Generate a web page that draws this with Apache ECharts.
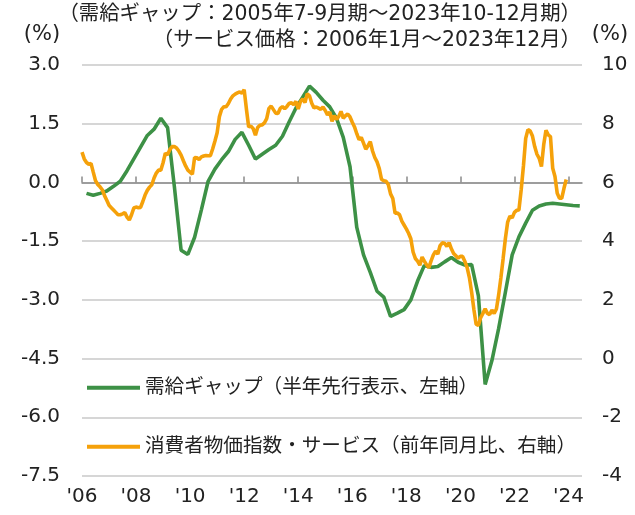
<!DOCTYPE html>
<html>
<head>
<meta charset="utf-8">
<script src="https://cdn.jsdelivr.net/npm/echarts@6/dist/echarts.min.js"></script>
<style>
html,body{margin:0;padding:0;background:#fff;}
#chart{width:635px;height:515px;}
</style>
</head>
<body>
<div id="chart"></div>
<script>
// 需給ギャップ (quarterly, 2005 Q3 - 2023 Q4), plotted half a year ahead
var demandGap = [
    -0.28, -0.33, -0.28, -0.22, -0.10, 0.03, 0.30, 0.60, 0.90, 1.20,
    1.36, 1.64, 1.40, -0.10, -1.73, -1.84, -1.40, -0.70, 0.03, 0.34,
    0.58, 0.79, 1.10, 1.28, 0.95, 0.60, 0.72, 0.84, 0.95, 1.18,
    1.55, 1.90, 2.18, 2.46, 2.30, 2.10, 1.93, 1.64, 1.15, 0.40,
    -1.15, -1.85, -2.30, -2.78, -2.93, -3.42, -3.34, -3.25, -3.00, -2.52,
    -2.12, -2.17, -2.15, -2.03, -1.92, -2.04, -2.11, -2.10, -2.90, -5.16,
    -4.55, -3.73, -2.80, -1.85, -1.39, -1.04, -0.71, -0.60, -0.55, -0.53,
    -0.55, -0.57, -0.59, -0.60
];

// サービス価格 (monthly, 2006/1 - 2023/12), one row per year
var serviceCpi = [
    7.03, 6.80, 6.68, 6.62, 6.65, 6.35, 6.06, 5.93, 5.85, 5.75, 5.55, 5.39,
    5.22, 5.14, 5.06, 4.98, 4.90, 4.90, 4.93, 4.97, 4.82, 4.72, 4.90, 5.13,
    5.16, 5.14, 5.15, 5.35, 5.57, 5.73, 5.84, 5.92, 6.15, 6.32, 6.42, 6.42,
    6.67, 7.00, 6.94, 7.12, 7.22, 7.22, 7.17, 7.07, 6.93, 6.74, 6.56, 6.42,
    6.35, 6.28, 6.85, 6.84, 6.78, 6.87, 6.90, 6.92, 6.91, 6.91, 7.14, 7.40,
    7.69, 8.24, 8.49, 8.58, 8.58, 8.69, 8.84, 8.95, 9.01, 9.05, 9.08, 9.04,
    9.16, 8.50, 7.89, 7.92, 7.83, 7.61, 7.87, 7.95, 7.96, 8.03, 8.17, 8.52,
    8.60, 8.48, 8.36, 8.35, 8.52, 8.58, 8.51, 8.59, 8.70, 8.71, 8.65, 8.76,
    8.50, 8.76, 8.84, 8.72, 9.02, 8.95, 8.70, 8.54, 8.57, 8.53, 8.49, 8.57,
    8.45, 8.30, 8.40, 8.08, 8.27, 8.15, 8.25, 8.42, 8.19, 8.27, 8.33, 8.23,
    8.05, 7.89, 7.66, 7.46, 7.53, 7.34, 7.13, 7.25, 7.39, 7.07, 6.85, 6.70,
    6.47, 6.10, 6.06, 6.04, 5.93, 5.61, 5.45, 4.95, 4.96, 4.90, 4.68, 4.55,
    4.42, 4.27, 4.08, 3.63, 3.41, 3.32, 3.18, 3.46, 3.32, 3.19, 3.10, 3.33,
    3.53, 3.66, 3.56, 3.85, 3.94, 3.93, 3.82, 3.95, 3.74, 3.58, 3.50, 3.42,
    3.48, 3.48, 3.31, 3.10, 2.76, 2.26, 1.67, 1.17, 1.13, 1.39, 1.54, 1.70,
    1.54, 1.50, 1.65, 1.54, 1.69, 2.17, 2.76, 3.42, 4.10, 4.65, 4.85, 4.79,
    4.98, 5.05, 5.06, 5.75, 6.56, 7.50, 7.80, 7.75, 7.58, 7.22, 6.96, 6.82,
    6.54, 7.28, 7.78, 7.62, 7.56, 6.48, 6.20, 5.63, 5.46, 5.46, 5.80, 6.10
];

var yearTicks = [2006, 2008, 2010, 2012, 2014, 2016, 2018, 2020, 2022, 2024];
var seriesNames = [
    '需給ギャップ（半年先行表示、左軸）',
    '消費者物価指数・サービス（前年同月比、右軸）'
];
var headerLines = [
    '（需給ギャップ：2005年7-9月期～2023年10-12月期）',
    '（サービス価格：2006年1月～2023年12月）'
];

(function(){
    var numFont = '"DejaVu Sans", "Noto Sans CJK JP"',
        textColor = '#222',
        axisGray = '#8a8a8a',
        gridGray = '#c8c8c8';

    // quarter k -> last month of the quarter, shifted +6 months
    var gapData = demandGap.map(function(v, k){
        return [2006 + (2 + 3 * k) / 12, v];
    });
    var cpiData = serviceCpi.map(function(v, m){
        return [2006 + m / 12, v];
    });

    var legendBase = {
        left: 87,
        padding: 0,
        icon: 'rect',
        itemWidth: 53,
        itemHeight: 4,
        textStyle: {fontSize: 19.6, color: textColor, fontFamily: numFont}
    };

    var option = {
        animation: false,
        backgroundColor: '#fff',
        grid: {left: 82, right: 53, top: 65, bottom: 39},
        legend: [
            Object.assign({data: [seriesNames[0]], top: 378}, legendBase),
            Object.assign({data: [seriesNames[1]], top: 437}, legendBase)
        ],
        xAxis: [
            {
                type: 'value', min: 2006, max: 2024.5,
                axisLine: {show: false},
                axisTick: {show: false},
                splitLine: {show: false},
                axisLabel: {
                    customValues: yearTicks,
                    formatter: function(v){ return "'" + String(v).slice(2); },
                    fontSize: 20, color: textColor, fontFamily: numFont, margin: 11
                }
            },
            {
                // axis line at zero with inward ticks
                type: 'value', min: 2006, max: 2024.5, position: 'bottom',
                axisLine: {onZero: true, onZeroAxisIndex: 0, lineStyle: {color: axisGray, width: 1.5}},
                axisTick: {show: true, inside: true, length: 6, customValues: yearTicks,
                           lineStyle: {color: axisGray, width: 1.5}},
                axisLabel: {show: false},
                splitLine: {show: false}
            }
        ],
        yAxis: [
            {
                type: 'value', min: -7.5, max: 3, interval: 1.5,
                axisLine: {show: false}, axisTick: {show: false},
                axisLabel: {
                    formatter: function(v){ return v.toFixed(1); },
                    fontSize: 20, color: textColor, fontFamily: numFont, margin: 22
                },
                splitLine: {lineStyle: {color: gridGray, width: 1.5}}
            },
            {
                type: 'value', min: -4, max: 10, interval: 2,
                axisLine: {show: false}, axisTick: {show: false},
                axisLabel: {fontSize: 20, color: textColor, fontFamily: numFont, margin: 20},
                splitLine: {show: false}
            }
        ],
        graphic: [
            {type: 'text', x: 581, y: 15, style: {text: headerLines[0], align: 'right', verticalAlign: 'middle',
                fontSize: 20.4, fontFamily: numFont, fill: textColor}},
            {type: 'text', x: 581, y: 41, style: {text: headerLines[1], align: 'right', verticalAlign: 'middle',
                fontSize: 20.4, fontFamily: numFont, fill: textColor}},
            {type: 'text', x: 42, y: 35, style: {text: '(%)', align: 'center', verticalAlign: 'middle',
                fontSize: 21, fontFamily: numFont, fill: textColor}},
            {type: 'text', x: 610, y: 35, style: {text: '(%)', align: 'center', verticalAlign: 'middle',
                fontSize: 21, fontFamily: numFont, fill: textColor}}
        ],
        series: [
            {
                name: seriesNames[0], type: 'line', yAxisIndex: 0,
                data: gapData, showSymbol: false, symbol: 'none',
                color: '#3d9146',
                lineStyle: {color: '#3d9146', width: 3.6}
            },
            {
                name: seriesNames[1], type: 'line', yAxisIndex: 1,
                data: cpiData, showSymbol: false, symbol: 'none',
                color: '#f5a10a',
                lineStyle: {color: '#f5a10a', width: 3.6}
            }
        ]
    };

    var chart = echarts.init(document.getElementById('chart'));
    chart.setOption(option);
})();
</script>
</body>
</html>
